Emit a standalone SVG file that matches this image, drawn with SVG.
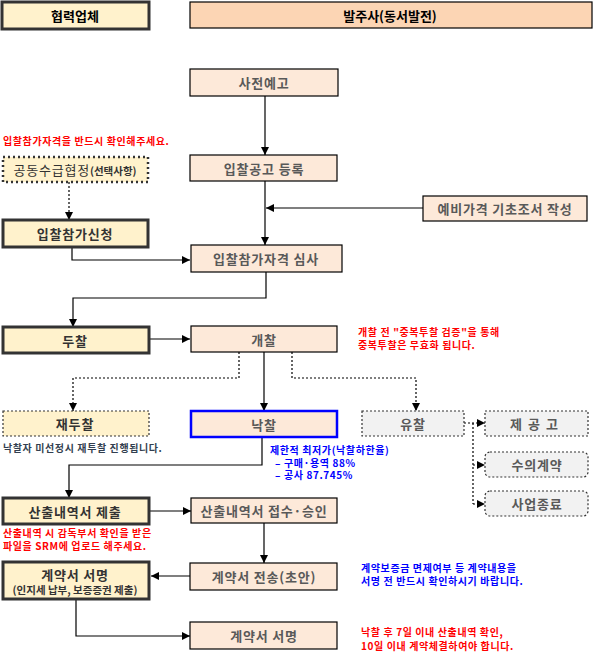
<svg xmlns="http://www.w3.org/2000/svg" width="593" height="654" viewBox="0 0 593 654">
<defs>
<marker id="ah" viewBox="0 0 10 10" refX="10" refY="5" markerWidth="8" markerHeight="8" markerUnits="userSpaceOnUse" orient="auto"><path d="M0,0 L10,5 L0,10 z" fill="#000"/></marker>
</defs>
<style>
text{font-family:"Noto Sans CJK KR","Noto Sans",sans-serif;dominant-baseline:central;text-anchor:middle}
.hdrL{fill:#FFF2CC;stroke:#333;stroke-width:3}
.hdrR{fill:#FCD5B4;stroke:#000;stroke-width:1.2}
.hd{font-size:13px;font-weight:bold;fill:#000}
.pb{fill:#FDE9D9;stroke:#000;stroke-width:1.2}
.pt{font-size:13px;font-weight:bold;fill:#595959;letter-spacing:0.8px}
.lb{fill:#FFF2CC;stroke:#333;stroke-width:3}
.lt{font-size:13px;font-weight:bold;fill:#333;letter-spacing:0.8px}
.db{fill:#FFF2CC;stroke:#333;stroke-width:2.5;stroke-dasharray:2 3}
.gb{fill:#F2F2F2;stroke:#333;stroke-width:1.2;stroke-dasharray:2 2}
.yd{fill:#FFF2CC;stroke:#333;stroke-width:1.2;stroke-dasharray:2 2}
.c{fill:none;stroke:#000;stroke-width:1.2}
.cd{fill:none;stroke:#000;stroke-width:1.2;stroke-dasharray:2 2}
.red{font-size:10px;font-weight:bold;fill:#FF0000;text-anchor:start;letter-spacing:0.6px}
.blue{font-size:10px;font-weight:bold;fill:#0000FF;text-anchor:start;letter-spacing:0.6px}
.navy{font-size:10px;font-weight:bold;fill:#333F50;text-anchor:start;letter-spacing:0.6px}
</style>

<g id="hdr-partner"><rect class="hdrL" x="2" y="2" width="147" height="27"/><text class="hd" x="75" y="15.5">협력업체</text></g>
<g id="hdr-owner"><rect class="hdrR" x="190" y="2" width="402" height="26"/><text class="hd" x="390" y="15">발주사(동서발전)</text></g>

<g id="connectors">
<path class="c" d="M265,96 V155" marker-end="url(#ah)"/>
<path class="c" d="M265,181 V245" marker-end="url(#ah)"/>
<path class="c" d="M423,208 H266" marker-end="url(#ah)"/>
<path class="c" d="M72,247 V260 H190" marker-end="url(#ah)"/>
<path class="cd" d="M69,182 V220" marker-end="url(#ah)"/>
<path class="c" d="M266,272 V298 H73 V327" marker-end="url(#ah)"/>
<path class="c" d="M149,339 H190" marker-end="url(#ah)"/>
<path class="c" d="M264,352 V411" marker-end="url(#ah)"/>
<path class="cd" d="M239,352 V378 H73 V411" marker-end="url(#ah)"/>
<path class="cd" d="M292,352 V378 H416 V411" marker-end="url(#ah)"/>
<path class="cd" d="M464,423 H485" marker-end="url(#ah)"/>
<path class="cd" d="M473,423 V504"/>
<path class="cd" d="M473,465 H485" marker-end="url(#ah)"/>
<path class="cd" d="M473,504 H485" marker-end="url(#ah)"/>
<path class="c" d="M262,438 V465 H69 V498" marker-end="url(#ah)"/>
<path class="c" d="M149,511 H191" marker-end="url(#ah)"/>
<path class="c" d="M264,523 V563" marker-end="url(#ah)"/>
<path class="c" d="M190,576 H151" marker-end="url(#ah)"/>
<path class="c" d="M76,600 V636 H190" marker-end="url(#ah)"/>
</g>

<g id="n-prenotice"><rect class="pb" x="190" y="69" width="148" height="27"/><text class="pt" x="264" y="82.5">사전예고</text></g>
<g id="n-announce"><rect class="pb" x="190" y="155" width="147" height="26"/><text class="pt" x="264" y="168">입찰공고 등록</text></g>
<g id="n-preprice"><rect class="pb" x="423" y="196" width="164" height="25"/><text class="pt" x="505" y="208.5">예비가격 기초조서 작성</text></g>
<g id="n-joint"><rect class="db" x="3" y="157" width="145" height="25"/><text class="lt" x="75" y="169.5" style="font-weight:normal">공동수급협정<tspan style="font-size:10.5px;font-weight:bold;letter-spacing:0">(선택사항)</tspan></text></g>
<g id="n-apply"><rect class="lb" x="3" y="220" width="145" height="27"/><text class="lt" x="75" y="233.5">입찰참가신청</text></g>
<g id="n-qualify"><rect class="pb" x="191" y="245" width="151" height="27"/><text class="pt" x="266" y="258.5">입찰참가자격 심사</text></g>
<g id="n-bid"><rect class="lb" x="3" y="327" width="146" height="26"/><text class="lt" x="75" y="340">두찰</text></g>
<g id="n-open"><rect class="pb" x="191" y="326" width="146" height="26"/><text class="pt" x="264" y="339">개찰</text></g>
<g id="n-rebid"><rect class="yd" x="3" y="411" width="146" height="25"/><text class="lt" x="75" y="423.5">재두찰</text></g>
<g id="n-award"><rect x="191" y="411" width="146" height="26" fill="#FDE9D9" stroke="#0000FF" stroke-width="2.5"/><text class="pt" x="264" y="424">낙찰</text></g>
<g id="n-fail"><rect class="gb" x="362" y="411" width="102" height="25"/><text class="pt" x="413" y="423.5">유찰</text></g>
<g id="n-renotice"><rect class="gb" x="485" y="411" width="103" height="25"/><text class="pt" x="537" y="423.5" style="letter-spacing:6px">제공고</text></g>
<g id="n-private"><rect class="gb" x="485" y="452" width="103" height="25" rx="5"/><text class="pt" x="537" y="464.5">수의계약</text></g>
<g id="n-end"><rect class="gb" x="485" y="491" width="103" height="25" rx="5"/><text class="pt" x="537" y="503.5">사업종료</text></g>
<g id="n-submit"><rect class="lb" x="3" y="498" width="146" height="26"/><text class="lt" x="75" y="511">산출내역서 제출</text></g>
<g id="n-accept"><rect class="pb" x="191" y="498" width="146" height="25"/><text class="pt" x="264" y="510.5">산출내역서 접수·승인</text></g>
<g id="n-draft"><rect class="pb" x="190" y="563" width="147" height="27"/><text class="pt" x="264" y="576.5">계약서 전송(초안)</text></g>
<g id="n-signL"><rect class="lb" x="3" y="562" width="146" height="37"/><text class="lt" x="75" y="574">계약서 서명<tspan x="75" dy="15" style="font-size:10.5px;letter-spacing:0">(인지세 납부, 보증증권 제출)</tspan></text></g>
<g id="n-signR"><rect class="pb" x="190" y="622" width="147" height="27"/><text class="pt" x="264" y="635.5">계약서 서명</text></g>

<g id="notes">
<text class="red" x="3" y="140">입찰참가자격을 반드시 확인해주세요.</text>
<text class="red" x="358" y="331.5">개찰 전 "중복투찰 검증"을 통해<tspan x="358" dy="12.5">중복투찰은 무효화 됩니다.</tspan></text>
<text class="navy" x="3" y="447">낙찰자 미선정시 재투찰 진행됩니다.</text>
<text class="blue" x="270" y="449.5">제한적 최저가(낙찰하한율)<tspan x="275" dy="12">– 구매·용역 88%</tspan><tspan x="275" dy="12">– 공사 87.745%</tspan></text>
<text class="red" x="3" y="532">산출내역 시 감독부서 확인을 받은<tspan x="3" dy="13">파일을 SRM에 업로드 해주세요.</tspan></text>
<text class="blue" x="361" y="567">계약보증금 면제여부 등 계약내용을<tspan x="361" dy="13">서명 전 반드시 확인하시기 바랍니다.</tspan></text>
<text class="red" x="361" y="631">낙찰 후 7일 이내 산출내역 확인,<tspan x="361" dy="14">10일 이내 계약체결하여야 합니다.</tspan></text>
</g>
</svg>
